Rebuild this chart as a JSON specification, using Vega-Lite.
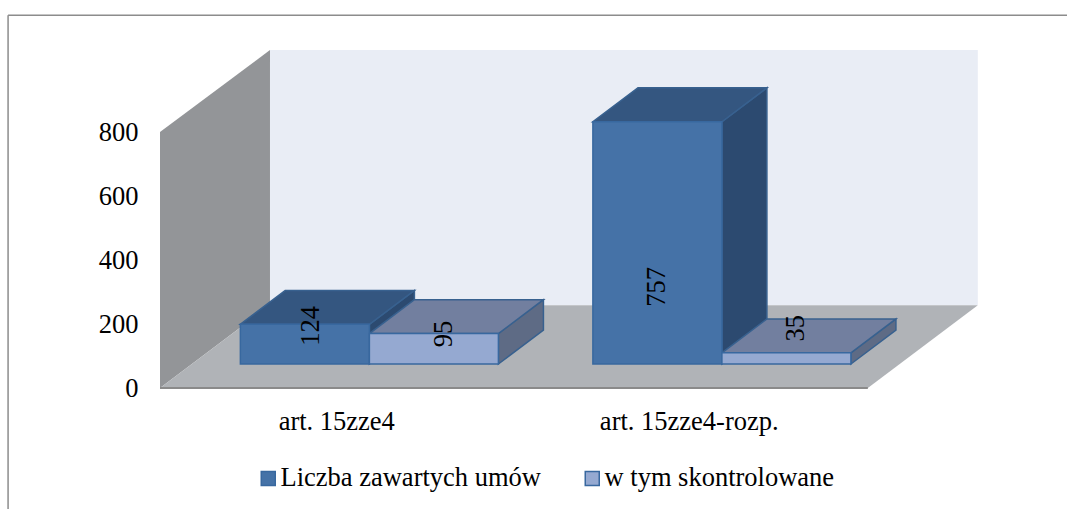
{
"$schema":"https://vega.github.io/schema/vega-lite/v6.json",
"width":1067,"height":509,"padding":0,"autosize":{"type":"none"},"background":"#ffffff",
"view":{"stroke":null},
"config":{"font":"Liberation Serif","view":{"stroke":null}},
"datasets":{
 "bars":[
  {"category":"art. 15zze4","series":"Liczba zawartych umów","value":124},
  {"category":"art. 15zze4","series":"w tym skontrolowane","value":95},
  {"category":"art. 15zze4-rozp.","series":"Liczba zawartych umów","value":757},
  {"category":"art. 15zze4-rozp.","series":"w tym skontrolowane","value":35}
 ],
 "t":[{"t":0},{"t":1}]
},
"layer":[
 {"data":{"name":"t"},"mark":{"type":"rule","stroke":"#8c8c8c","strokeWidth":1.5},
  "transform":[{"filter":"datum.t==0"}],
  "encoding":{"x":{"datum":-0.431,"type":"quantitative","scale":{"domain":[-0.4539,2.573],"range":[0,1067],"nice":false,"zero":false},
     "axis":{"values":[0.5,1.5],"labelExpr":"datum.value<1?'art. 15zze4':'art. 15zze4-rozp.'","orient":"bottom","offset":-88,"domain":false,"ticks":false,"grid":false,"title":null,"labelFontSize":26.5,"labelFont":"Liberation Serif","labelColor":"#000000","labelPadding":0,"labelOverlap":false,"labelBaseline":"middle"}},
   "y":{"datum":-378,"type":"quantitative","scale":{"domain":[-378.1,1212.5],"range":[509,0],"nice":false,"zero":false},
     "axis":{"values":[0,200,400,600,800],"orient":"left","offset":-138,"domain":false,"ticks":false,"grid":false,"title":null,"labelFontSize":26.5,"labelFont":"Liberation Serif","labelColor":"#000000","labelPadding":0}},
   "y2":{"datum":1165}}},
 {"data":{"name":"t"},"mark":{"type":"rule","stroke":"#8c8c8c","strokeWidth":1.5},
  "transform":[{"filter":"datum.t==0"}],
  "encoding":{"x":{"datum":-0.431,"type":"quantitative"},"x2":{"datum":2.573},"y":{"datum":1165,"type":"quantitative"}}},
 {"data":{"name":"t"},"mark":{"type":"rect","fill":"#e9edf5"},
  "transform":[{"filter":"datum.t==0"}],
  "encoding":{"x":{"datum":0.312,"type":"quantitative"},"x2":{"datum":2.32},"y":{"datum":259,"type":"quantitative"},"y2":{"datum":1056}}},
 {"data":{"name":"t"},"mark":{"type":"area","fill":"#939598","orient":"vertical"},
  "transform":[{"calculate":"datum.t*0.312","as":"px"},{"calculate":"datum.t*259","as":"y0"},{"calculate":"800+datum.t*256","as":"y1"}],
  "encoding":{"x":{"field":"px","type":"quantitative"},"y":{"field":"y0","type":"quantitative"},"y2":{"field":"y1"}}},
 {"data":{"name":"t"},"mark":{"type":"area","fill":"#b0b3b7","orient":"horizontal"},
  "transform":[{"calculate":"datum.t*0.312","as":"x0"},{"calculate":"2.008+datum.t*0.312","as":"x1"},{"calculate":"datum.t*259","as":"y0"}],
  "encoding":{"y":{"field":"y0","type":"quantitative"},"x":{"field":"x0","type":"quantitative"},"x2":{"field":"x1"}}},
 {"data":{"name":"t"},"mark":{"type":"rule","stroke":"#8a8a8a","strokeWidth":2},
  "transform":[{"filter":"datum.t==0"}],
  "encoding":{"x":{"datum":0,"type":"quantitative"},"x2":{"datum":2.008},"y":{"datum":0,"type":"quantitative"}}},
 {"data":{"name":"bars"},"mark":{"type":"area","orient":"vertical","strokeWidth":1.5,"stroke":"#38618f"},
  "transform":[
   {"calculate":"[0,1]","as":"t"},{"flatten":["t"]},
   {"calculate":"(datum.category=='art. 15zze4'?0:1)+(datum.series=='w tym skontrolowane'?0.366:0)+0.228+0.366+datum.t*0.1277","as":"px"},
   {"calculate":"75+datum.t*106","as":"y0"},
   {"calculate":"75+datum.value+datum.t*106","as":"y1"}],
  "encoding":{"x":{"field":"px","type":"quantitative"},"y":{"field":"y0","type":"quantitative"},"y2":{"field":"y1"},
   "detail":[{"field":"category"},{"field":"series"}],
   "fill":{"field":"series","type":"nominal","legend":null,"scale":{"domain":["Liczba zawartych umów","w tym skontrolowane"],"range":["#2c4a70","#5e6b85"]}}}},
 {"data":{"name":"bars"},"mark":{"type":"area","orient":"horizontal","strokeWidth":1.5,"stroke":"#38618f"},
  "transform":[
   {"calculate":"[0,1]","as":"t"},{"flatten":["t"]},
   {"calculate":"(datum.category=='art. 15zze4'?0:1)+(datum.series=='w tym skontrolowane'?0.366:0)+0.228+datum.t*0.1277","as":"x0"},
   {"calculate":"datum.x0+0.366","as":"x1"},
   {"calculate":"75+datum.value+datum.t*106","as":"y0"}],
  "encoding":{"y":{"field":"y0","type":"quantitative"},"x":{"field":"x0","type":"quantitative"},"x2":{"field":"x1"},
   "detail":[{"field":"category"},{"field":"series"}],
   "fill":{"field":"series","type":"nominal","legend":null,"scale":{"domain":["Liczba zawartych umów","w tym skontrolowane"],"range":["#345680","#727f9f"]}}}},
 {"data":{"name":"bars"},"mark":{"type":"rect","strokeWidth":1.5,"stroke":"#38689f"},
  "transform":[
   {"calculate":"(datum.category=='art. 15zze4'?0:1)+(datum.series=='w tym skontrolowane'?0.366:0)+0.228","as":"x0"},
   {"calculate":"datum.x0+0.366","as":"x1"},
   {"calculate":"75","as":"y0"},
   {"calculate":"75+datum.value","as":"y1"}],
  "encoding":{"x":{"field":"x0","type":"quantitative"},"x2":{"field":"x1"},"y":{"field":"y0","type":"quantitative"},"y2":{"field":"y1"},
   "fill":{"field":"series","type":"nominal","scale":{"domain":["Liczba zawartych umów","w tym skontrolowane"],"range":["#4572a7","#95a9d1"]},
    "legend":{"orient":"none","legendX":255,"legendY":465,"direction":"horizontal","title":null,"labelFont":"Liberation Serif","labelFontSize":26.5,"labelColor":"#000000","symbolType":"square","symbolSize":196,"symbolStrokeColor":"#38689f","symbolStrokeWidth":1.5,"columnPadding":38,"labelOffset":-1,"labelLimit":400}}}},
 {"data":{"name":"bars"},"mark":{"type":"text","angle":270,"font":"Liberation Serif","fontSize":26.5,"color":"#000000","align":"center","baseline":"middle"},
  "transform":[
   {"calculate":"(datum.category=='art. 15zze4'?0:1)+(datum.series=='w tym skontrolowane'?0.366:0)+0.228+0.183+({'124':0.016,'95':0.03,'757':0,'35':0.028})[datum.value]","as":"lx"},
   {"calculate":"({'124':194,'95':169,'757':316,'35':187})[datum.value]","as":"ly"}],
  "encoding":{"x":{"field":"lx","type":"quantitative"},"y":{"field":"ly","type":"quantitative"},"text":{"field":"value","type":"quantitative"}}}
],
"resolve":{"scale":{"fill":"independent"}}
}
